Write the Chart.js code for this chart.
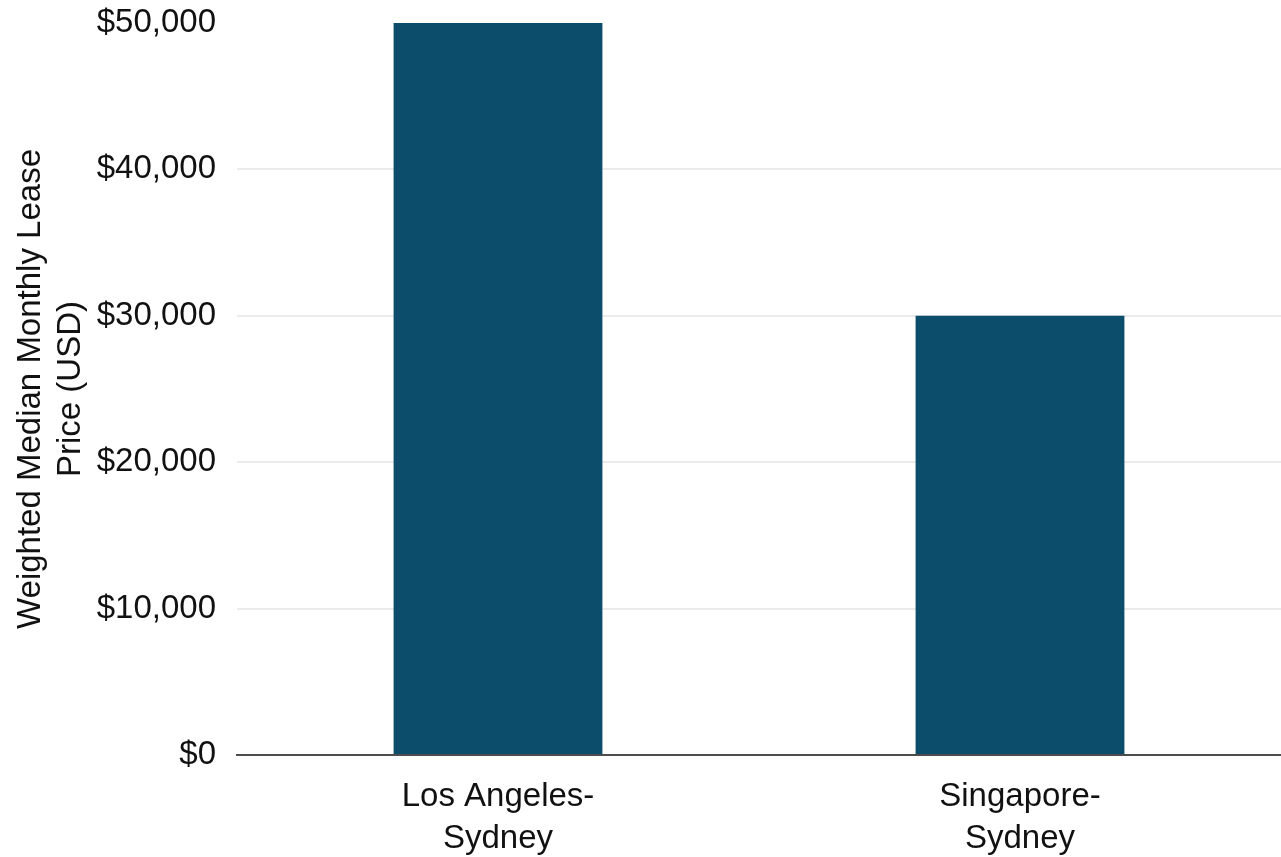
<!DOCTYPE html>
<html>
<head>
<meta charset="utf-8">
<script src="https://cdn.jsdelivr.net/npm/chart.js@4/dist/chart.umd.min.js"></script>
<style>
  html, body { margin: 0; padding: 0; background: #ffffff; }
  #wrap { width: 1281px; height: 857px; position: relative; }
</style>
</head>
<body>
<div id="wrap"><canvas id="chart" width="1281" height="857"></canvas></div>
<script>
// Routes (multi-line category labels)
const routes = [
  ['Los Angeles-', 'Sydney'],
  ['Singapore-', 'Sydney']
];
// Weighted median monthly lease price, USD
const leasePrices = [50000, 30000];
// Y axis tick values
const yTicks = [0, 10000, 20000, 30000, 40000, 50000];

const FONT = "'Liberation Sans', Arial, Helvetica, sans-serif";
const fmtUSD = v => '$' + Number(v).toLocaleString('en-US');

new Chart(document.getElementById('chart'), {
  type: 'bar',
  data: {
    labels: routes,
    datasets: [{
      data: leasePrices,
      backgroundColor: '#0b4d6b',
      borderWidth: 0,
      barPercentage: 0.4,
      categoryPercentage: 1.0
    }]
  },
  options: {
    responsive: false,
    animation: false,
    devicePixelRatio: 1,
    layout: { padding: { top: 23, right: 0, bottom: 0, left: 0 } },
    plugins: {
      legend: { display: false },
      tooltip: { enabled: false }
    },
    scales: {
      x: {
        grid: { display: false, drawTicks: false },
        border: { display: true, color: '#4d4d4d', width: 2 },
        ticks: {
          color: '#111111',
          padding: 20,
          maxRotation: 0,
          autoSkip: false,
          font: { family: FONT, size: 33, lineHeight: 1.3 }
        },
        afterFit: s => { s.height = 102; s.paddingLeft = 0; s.paddingRight = 0; }
      },
      y: {
        min: 0,
        max: 50000,
        afterBuildTicks: s => { s.ticks = yTicks.map(v => ({ value: v })); },
        grid: {
          drawTicks: false,
          lineWidth: 2,
          color: ctx => (ctx.tick && (ctx.tick.value === 0 || ctx.tick.value === 50000)) ? 'rgba(0,0,0,0)' : '#ebebeb'
        },
        border: { display: false },
        ticks: {
          color: '#111111',
          padding: 21,
          font: { family: FONT, size: 33 },
          callback: v => fmtUSD(v)
        },
        title: {
          display: true,
          text: ['Weighted Median Monthly Lease', 'Price (USD)'],
          color: '#111111',
          padding: { top: 10, bottom: 0 },
          font: { family: FONT, size: 33, lineHeight: 1.24 }
        },
        afterFit: s => { s.width = 237; s.paddingTop = 0; s.paddingBottom = 0; }
      }
    }
  }
});
</script>
</body>
</html>
